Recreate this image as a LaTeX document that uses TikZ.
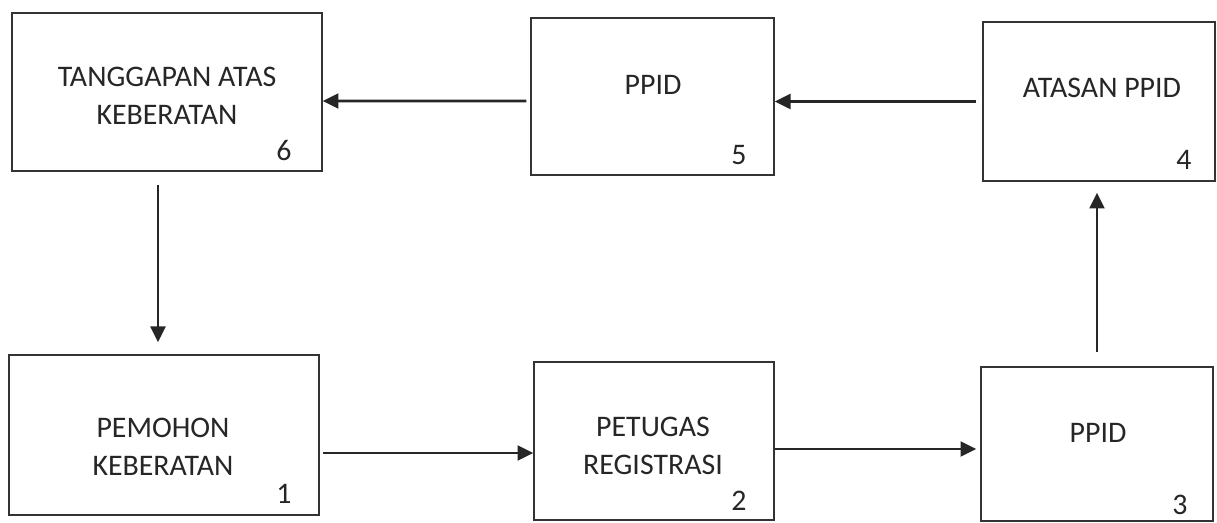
\documentclass[tikz,border=0pt]{standalone}
\usepackage{fontspec}
\setmainfont{Carlito}
\usetikzlibrary{arrows.meta}

\begin{document}
\begin{tikzpicture}[x=0.02cm, y=-0.02cm,
    box/.style={draw=black!80, line width=0.8pt, inner sep=0pt},
    txt/.style={align=center, font=\fontsize{17}{21.5}\selectfont, text=black!85},
    num/.style={anchor=base east, font=\fontsize{17}{20}\selectfont, text=black!85},
    arr/.style={line width=1.5pt, draw=black!85, -{Triangle[length=9pt,width=8.5pt]}}]
  \useasboundingbox (0,0) rectangle (1217,523);

  % kotak
  \node[box, minimum width=6.2cm, minimum height=3.16cm] (b6) at (167,92) {};
  \node[box, minimum width=4.86cm, minimum height=3.14cm] (b5) at (652.5,96.5) {};
  \node[box, minimum width=4.64cm, minimum height=3.18cm] (b4) at (1099,101.5) {};
  \node[box, minimum width=6.2cm, minimum height=3.2cm] (b1) at (164,435) {};
  \node[box, minimum width=4.8cm, minimum height=3.16cm] (b2) at (654,441) {};
  \node[box, minimum width=4.64cm, minimum height=3.08cm] (b3) at (1097,444) {};

  % teks
  \node[txt] (t6) at (167,96) {TANGGAPAN ATAS\\KEBERATAN};
  \node[txt] (t5) at (653,85) {PPID};
  \node[txt] (t4) at (1102,88) {ATASAN PPID};
  \node[txt] (t3) at (1098,433) {PPID};
  \node[txt] (t1) at (163,447) {PEMOHON\\KEBERATAN};
  \node[txt] (t2) at (653,446) {PETUGAS\\REGISTRASI};

  % nomor
  \node[num] (n6) at ([shift={(-25,-11)}]b6.south east) {6};
  \node[num] (n5) at ([shift={(-22,-11)}]b5.south east) {5};
  \node[num] (n4) at ([shift={(-18,-12)}]b4.south east) {4};
  \node[num] (n1) at ([shift={(-22,-12)}]b1.south east) {1};
  \node[num] (n2) at ([shift={(-22,-10)}]b2.south east) {2};
  \node[num] (n3) at ([shift={(-20,-7)}]b3.south east) {3};

  % panah
  \draw[arr] ([shift={(3,18)}]b1.east) -- ([shift={(0,12)}]b2.west);
  \draw[arr] ([shift={(0,8)}]b2.east) -- ([shift={(-4,5)}]b3.west);
  \draw[arr] ([shift={(0,-14)}]b3.north) -- ([shift={(-2,11)}]b4.south);
  \draw[arr] ([shift={(-6,0)}]b4.west) -- ([shift={(0,5)}]b5.east);
  \draw[arr] ([shift={(-4,4.5)}]b5.west) -- ([shift={(0,9)}]b6.east);
  \draw[arr] ([shift={(-9,13)}]b6.south) -- ([shift={(-6,-12)}]b1.north);
\end{tikzpicture}
\end{document}
